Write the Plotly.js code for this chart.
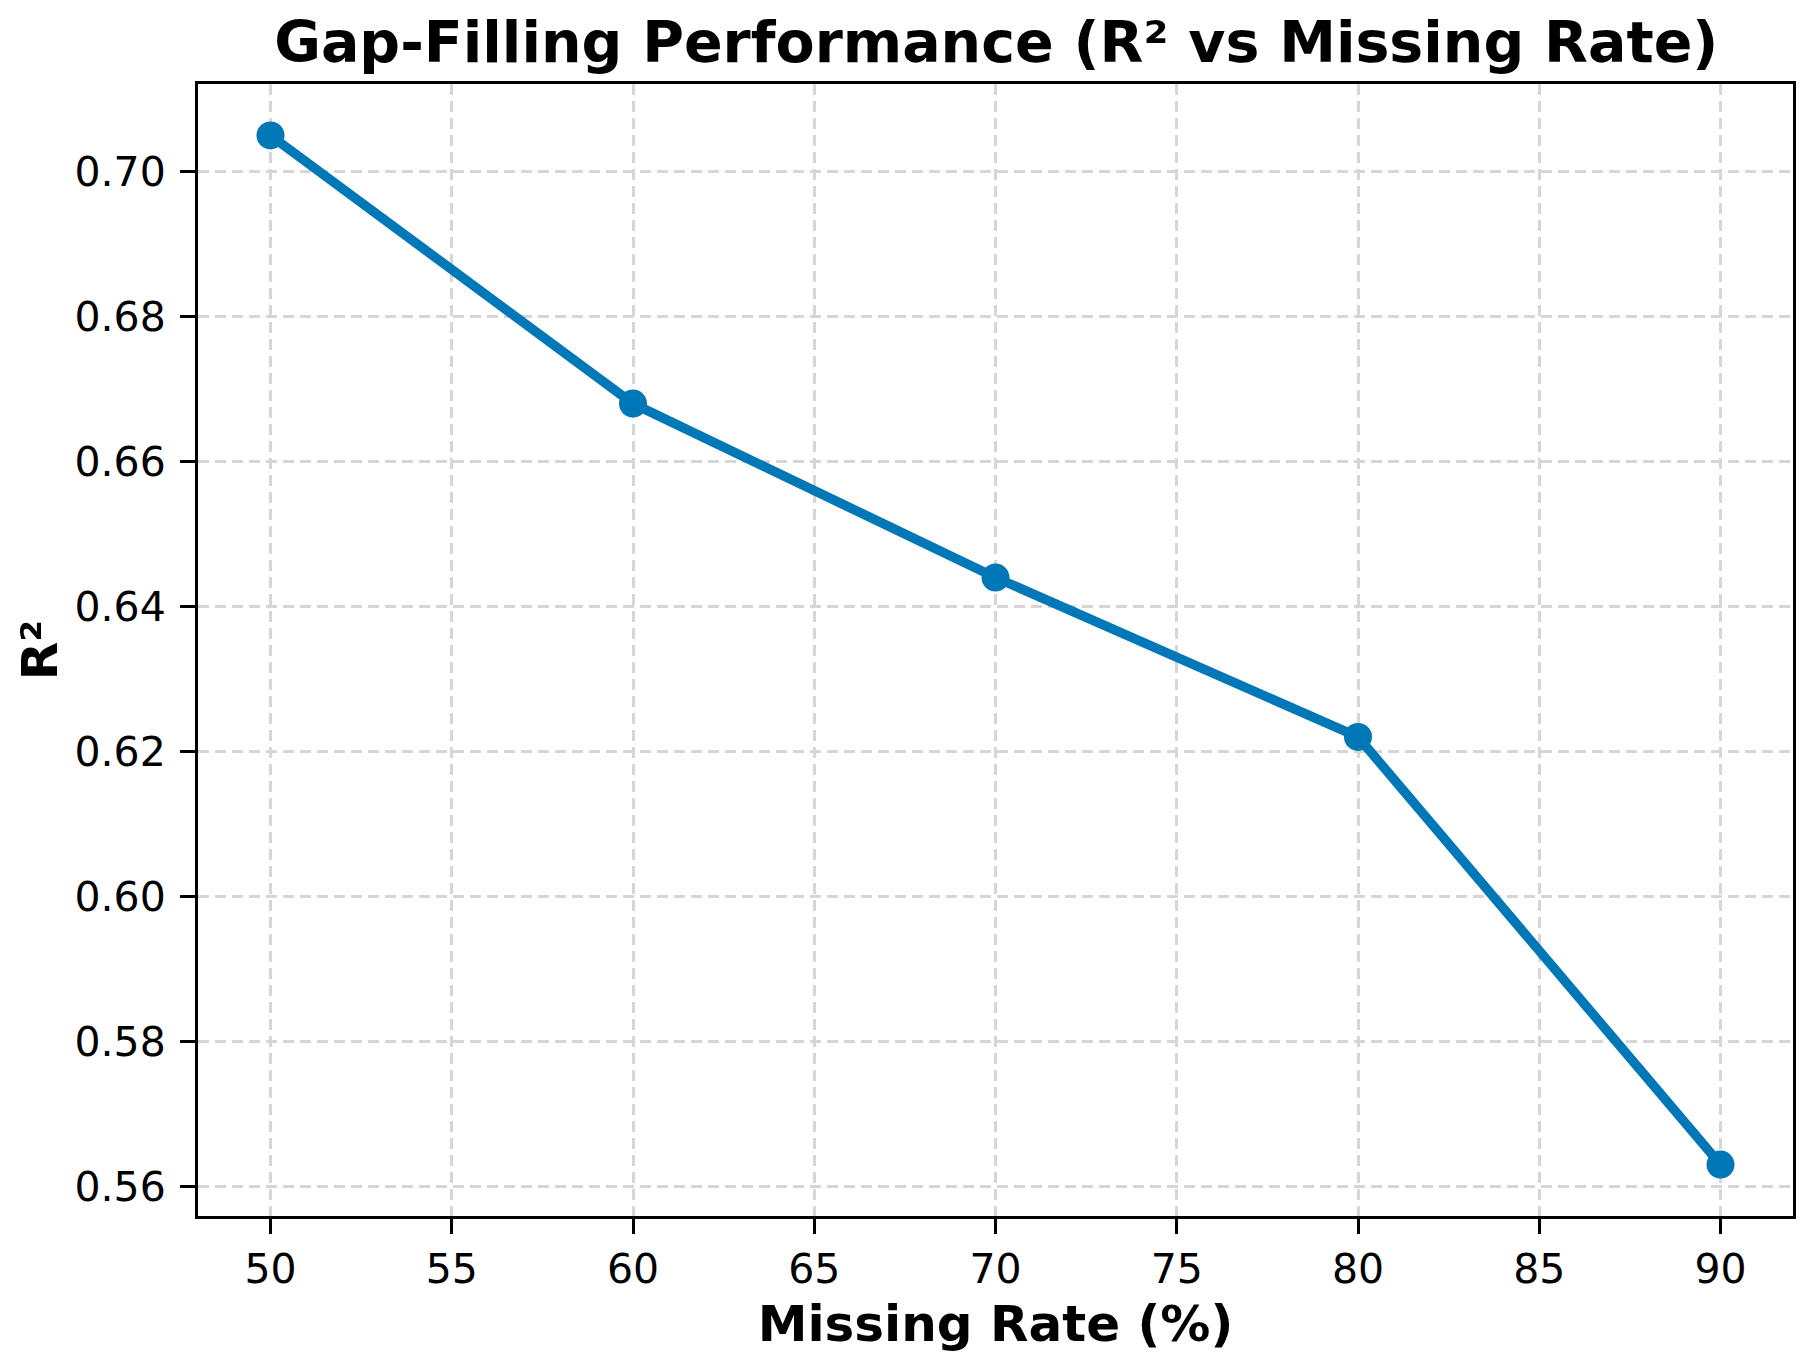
<!DOCTYPE html>
<html>
<head>
<meta charset="utf-8">
<script src="https://cdn.plot.ly/plotly-3.0.1.min.js"></script>
<style>
  body { margin: 0; background: #fff; }
  #plot { width: 1813px; height: 1367px; }
</style>
</head>
<body>
<div id="plot"></div>
<script>
// values
const missingRate = [50, 60, 70, 80, 90];
const r2 = [0.705, 0.668, 0.644, 0.622, 0.563];
const xTicks = [50, 55, 60, 65, 70, 75, 80, 85, 90];
const yTicks = [0.56, 0.58, 0.60, 0.62, 0.64, 0.66, 0.68, 0.70];

const lineColor = "#0077b6";
const gridColor = "#d6d6d6";

const trace = {
  x: missingRate,
  y: r2,
  mode: "lines+markers",
  line: { color: lineColor, width: 9.5 },
  marker: { color: lineColor, size: 28 },
  showlegend: false,
  hoverinfo: "skip",
};

const axisCommon = {
  showline: true,
  mirror: true,
  linecolor: "black",
  linewidth: 3,
  ticks: "outside",
  ticklen: 15,
  tickwidth: 3,
  tickcolor: "black",
  showgrid: true,
  gridcolor: gridColor,
  gridwidth: 3,
  griddash: "11px,6px",
  zeroline: false,
  tickfont: { family: "DejaVu Sans", size: 41, color: "black" },
};

const layout = {
  width: 1813,
  height: 1367,
  margin: { l: 198, r: 20, t: 84, b: 151 },
  paper_bgcolor: "white",
  plot_bgcolor: "white",
  font: { family: "DejaVu Sans", color: "black" },
  title: {
    text: "Gap-Filling Performance (R² vs Missing Rate)",
    font: { family: "DejaVu Sans", size: 57, weight: "bold", color: "black" },
    x: 0.5495,
    xanchor: "center",
    yref: "container",
    y: 1 - 22 / 1367,
    yanchor: "top",
  },
  xaxis: Object.assign({}, axisCommon, {
    range: [48, 92],
    tickvals: xTicks,
    ticktext: xTicks.map(String),
    ticklabelstandoff: 0,
    title: {
      text: "Missing Rate (%)",
      font: { family: "DejaVu Sans", size: 50, weight: "bold", color: "black" },
      standoff: 14,
    },
  }),
  yaxis: Object.assign({}, axisCommon, {
    range: [0.5559, 0.7121],
    tickvals: yTicks,
    ticktext: yTicks.map((v) => v.toFixed(2)),
    ticklabelstandoff: 6,
    title: {
      text: "R²",
      font: { family: "DejaVu Sans", size: 50, weight: "bold", color: "black" },
      standoff: 2,
    },
  }),
};

Plotly.newPlot("plot", [trace], layout, { staticPlot: true });
</script>
</body>
</html>
